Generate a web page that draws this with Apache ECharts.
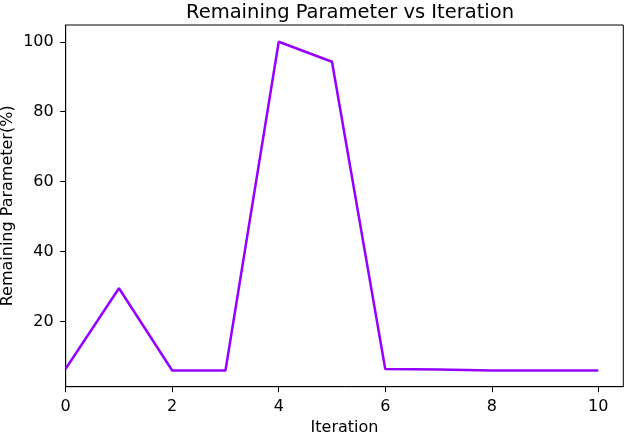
<!DOCTYPE html>
<html>
<head>
<meta charset="utf-8">
<script src="https://cdn.jsdelivr.net/npm/echarts@6/dist/echarts.min.js"></script>
<style>
html,body{margin:0;padding:0;background:#fff;}
#c{width:625px;height:435px;}
</style>
</head>
<body>
<div id="c"></div>
<script>
const iterations = [0, 1, 2, 3, 4, 5, 6, 7, 8, 9, 10];
const remaining = [6.5, 29.5, 6.0, 6.0, 100, 94.3, 6.4, 6.3, 6.0, 6.0, 6.0];
const xTicks = [0, 2, 4, 6, 8, 10];
const yTicks = [20, 40, 60, 80, 100];

const font = 'DejaVu Sans';
const chart = echarts.init(document.getElementById('c'), null, {renderer: 'canvas'});
chart.setOption({
  animation: false,
  backgroundColor: '#fff',
  title: {
    text: 'Remaining Parameter vs Iteration',
    left: 345, top: -2, textAlign: 'center',
    textStyle: {fontFamily: font, fontSize: 19.5, fontWeight: 'normal', color: '#000'}
  },
  grid: {
    left: 65.7, right: 1.7, top: 25, bottom: 48.3,
    outerBoundsMode: 'none', containLabel: false,
    show: true, borderColor: '#000', borderWidth: 1, backgroundColor: 'transparent'
  },
  xAxis: {
    type: 'value', min: 0, max: 10.47,
    name: 'Iteration', nameLocation: 'middle', nameGap: 33, nameMoveOverlap: false,
    nameTextStyle: {fontFamily: font, fontSize: 16, color: '#000'},
    axisLine: {show: true, lineStyle: {color: '#000', width: 1}},
    axisTick: {show: true, length: 5.5, lineStyle: {color: '#000'}, customValues: xTicks},
    axisLabel: {fontFamily: font, fontSize: 16, color: '#000', margin: 12, customValues: xTicks},
    splitLine: {show: false}
  },
  yAxis: {
    type: 'value', min: 1.36, max: 104.8,
    name: 'Remaining Parameter(%)', nameLocation: 'middle', nameGap: 50, nameMoveOverlap: false,
    nameTextStyle: {fontFamily: font, fontSize: 16, color: '#000'},
    axisLine: {show: true, lineStyle: {color: '#000', width: 1}},
    axisTick: {show: true, length: 5.5, lineStyle: {color: '#000'}, customValues: yTicks},
    axisLabel: {fontFamily: font, fontSize: 16, color: '#000', margin: 12, customValues: yTicks},
    splitLine: {show: false}
  },
  series: [{
    type: 'line',
    data: iterations.map((x, i) => [x, remaining[i]]),
    showSymbol: false,
    lineStyle: {color: '#9600ff', width: 2.5},
    itemStyle: {color: '#9600ff'}
  }]
});
</script>
</body>
</html>
